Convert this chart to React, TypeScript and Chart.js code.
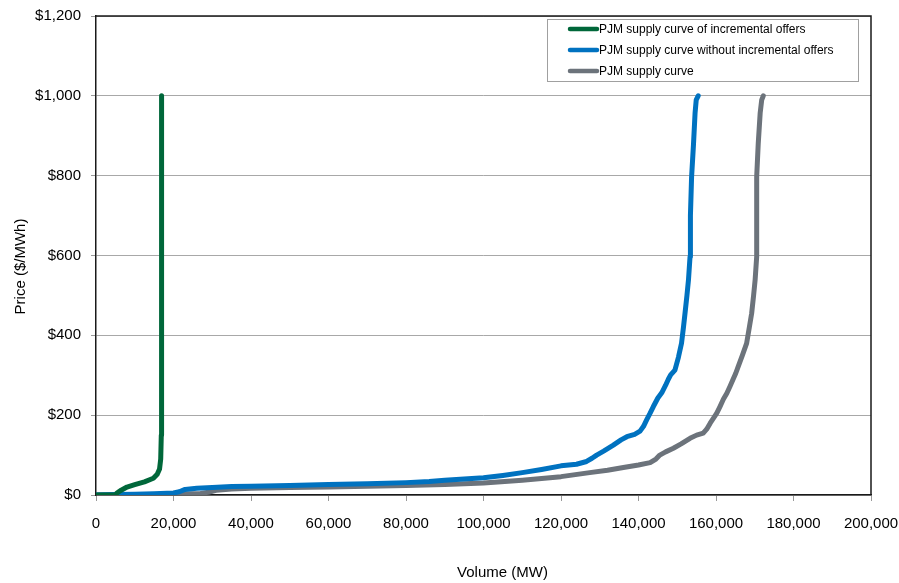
import { useEffect, useRef } from "react";
import { Chart, registerables } from "chart.js";

Chart.register(...registerables);

const seriesLabels = [
  "PJM supply curve of incremental offers",
  "PJM supply curve without incremental offers",
  "PJM supply curve",
];

const greenMW = [0, 5000, 5400, 6500, 8000, 10000, 12500, 14800, 15800, 16400, 16700, 16850, 16900, 16920, 16950];
const greenPrice = [0, 0, 5, 12, 20, 26, 33, 42, 52, 65, 90, 150, 300, 700, 1000];

const blueMW = [0, 5000, 10000, 15000, 20000, 21500, 23000, 26000, 30000, 35000, 40000, 50000, 60000, 70000, 80000, 86000, 90000, 95000, 100000, 105000, 110000, 115000, 120000, 124000, 126600, 128000, 129200, 131000, 133500, 135500, 137000, 139000, 140400, 141300, 142100, 143000, 143800, 145000, 146000, 147000, 147700, 148300, 149400, 150300, 151100, 151600, 152000, 152500, 152900, 153300, 153400, 153700, 154200, 154600, 154900, 155400];
const bluePrice = [0, 1, 2, 3, 5, 8, 14, 17, 19, 21, 22, 24, 26, 28, 31, 34, 37, 40, 43, 49, 56, 64, 73, 77, 84, 92, 100, 110, 125, 138, 146, 152, 160, 172, 188, 205, 221, 243, 256, 275, 290, 301, 313, 345, 380, 420, 455, 500, 539, 597, 700, 797, 880, 957, 990, 1000];

const grayMW = [0, 20000, 27000, 29000, 31000, 35000, 40000, 50000, 60000, 70000, 80000, 90000, 100000, 110000, 120000, 127400, 132000, 136100, 140000, 143000, 144500, 145500, 147000, 149000, 151000, 153300, 155000, 156700, 157600, 158500, 159400, 160200, 161000, 161900, 162800, 163600, 164500, 165100, 165700, 166800, 167900, 168600, 169200, 169700, 170100, 170500, 170500, 170500, 170900, 171400, 171800, 172200];
const grayPrice = [0, 2, 4, 7, 12, 15, 17, 19, 20, 22, 24, 26, 30, 37, 46, 56, 62, 69, 75, 81, 90, 100, 108, 117, 128, 142, 150, 155, 165, 180, 193, 205, 221, 240, 255, 272, 292, 305, 321, 350, 380, 420, 455, 500, 539, 597, 700, 797, 880, 957, 990, 1000];

const xTickLabels = ["0", "20,000", "40,000", "60,000", "80,000", "100,000", "120,000", "140,000", "160,000", "180,000", "200,000"];
const yTickLabels = ["$0", "$200", "$400", "$600", "$800", "$1,000", "$1,200"];

const xTitle = "Volume (MW)";
const yTitle = "Price ($/MWh)";

const colors = ["#00673a", "#0072c0", "#6c737b"];
const FONT = "'Liberation Sans', Arial, sans-serif";

const toPoints = (xs: number[], ys: number[]) => xs.map((x, i) => ({ x, y: ys[i] }));

const decorPlugin = {
  id: "decor",
  afterDatasetsDraw(chart: any) {
    const { ctx, chartArea } = chart;
    ctx.save();
    ctx.strokeStyle = "#1a1a1a";
    ctx.lineWidth = 1.5;
    ctx.beginPath();
    ctx.moveTo(chartArea.left, chartArea.top);
    ctx.lineTo(chartArea.right, chartArea.top);
    ctx.lineTo(chartArea.right, chartArea.bottom);
    ctx.stroke();
    ctx.restore();
  },
  afterDraw(chart: any) {
    const { ctx, chartArea } = chart;
    ctx.save();
    // axis titles
    ctx.fillStyle = "#000";
    ctx.font = `15px ${FONT}`;
    ctx.textAlign = "center";
    ctx.textBaseline = "middle";
    ctx.fillText(xTitle, (chartArea.left + chartArea.right) / 2 + 19, 573);
    ctx.save();
    ctx.translate(21, (chartArea.top + chartArea.bottom) / 2 + 11);
    ctx.rotate(-Math.PI / 2);
    ctx.fillText(yTitle, 0, 0);
    ctx.restore();

    // legend
    const boxW = 311;
    const boxH = 62;
    const bx = chartArea.right - 13 - boxW;
    const by = chartArea.top + 3;
    ctx.fillStyle = "#fff";
    ctx.fillRect(bx, by, boxW, boxH);
    ctx.strokeStyle = "#a0a0a0";
    ctx.lineWidth = 1;
    ctx.strokeRect(bx + 0.5, by + 0.5, boxW, boxH);
    ctx.font = `12px ${FONT}`;
    ctx.textAlign = "left";
    ctx.textBaseline = "middle";
    chart.data.datasets.forEach((ds: any, i: number) => {
      const cy = by + 10 + i * 21;
      ctx.strokeStyle = ds.borderColor;
      ctx.lineWidth = 4.5;
      ctx.lineCap = "round";
      ctx.beginPath();
      ctx.moveTo(bx + 23, cy);
      ctx.lineTo(bx + 50, cy);
      ctx.stroke();
      ctx.fillStyle = "#000";
      ctx.fillText(ds.label, bx + 52, cy + 0.5);
    });
    ctx.restore();
  },
};

export default function App() {
  const canvasRef = useRef<HTMLCanvasElement | null>(null);

  useEffect(() => {
    document.body.style.margin = "0";
    const canvas = canvasRef.current;
    if (!canvas) return;
    const series = [
      toPoints(greenMW, greenPrice),
      toPoints(blueMW, bluePrice),
      toPoints(grayMW, grayPrice),
    ];
    const chart = new Chart(canvas, {
      type: "line",
      data: {
        datasets: series.map((data, i) => ({
          label: seriesLabels[i],
          data,
          borderColor: colors[i],
          backgroundColor: colors[i],
          borderWidth: 5,
          pointRadius: 0,
          tension: 0,
          borderCapStyle: "round",
          borderJoinStyle: "round",
          fill: false,
        })),
      },
      options: {
        animation: false,
        responsive: false,
        devicePixelRatio: 1,
        layout: { padding: { top: 16, right: 28, bottom: 0, left: 0 } },
        plugins: {
          legend: { display: false },
          tooltip: { enabled: false },
        },
        scales: {
          x: {
            type: "linear",
            min: 0,
            max: 200000,
            ticks: {
              stepSize: 20000,
              color: "#000",
              font: { family: FONT, size: 15 },
              padding: 14,
              maxRotation: 0,
              autoSkip: false,
              callback: (_v: any, i: number) => xTickLabels[i],
            },
            grid: {
              drawOnChartArea: false,
              drawTicks: true,
              tickLength: 6,
              tickColor: "#9a9a9a",
            },
            border: { display: true, color: "#1a1a1a", width: 1.5 },
            afterFit: (scale: any) => {
              scale.height = 88;
              scale.paddingLeft = 0;
              scale.paddingRight = 0;
            },
          },
          y: {
            type: "linear",
            min: 0,
            max: 1200,
            ticks: {
              stepSize: 200,
              color: "#000",
              font: { family: FONT, size: 15 },
              padding: 10,
              autoSkip: false,
              callback: (_v: any, i: number) => yTickLabels[i],
            },
            grid: {
              color: "#a8a8a8",
              lineWidth: 1,
              drawTicks: true,
              tickLength: 5,
              tickColor: "#9a9a9a",
            },
            border: { display: true, color: "#1a1a1a", width: 1.5 },
            afterFit: (scale: any) => {
              scale.width = 96;
              scale.paddingTop = 0;
              scale.paddingBottom = 0;
            },
          },
        },
      },
      plugins: [decorPlugin],
    } as any);
    return () => chart.destroy();
  }, []);

  return (
    <div style={{ width: 899, height: 583 }}>
      <canvas ref={canvasRef} width={899} height={583} />
    </div>
  );
}
